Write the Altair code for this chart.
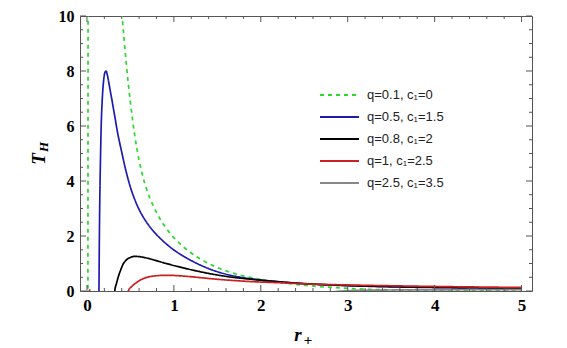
import altair as alt
import pandas as pd

# ---------------- data ----------------
green_a_x = [0.011, 0.013]
green_a_y = [-0.5, 10.5]
green_b_x = [0.395, 0.406, 0.45, 0.50, 0.55, 0.60, 0.65, 0.70, 0.80, 0.90, 1.00, 1.10, 1.20,
             1.40, 1.60, 1.80, 2.00, 2.25, 2.50, 2.75, 3.00, 3.50, 4.00, 4.50, 5.00]
green_b_y = [10.4, 9.95, 8.35, 6.85, 5.65, 4.75, 4.08, 3.58, 2.86, 2.33, 1.94, 1.63, 1.38,
             1.0, 0.73, 0.55, 0.42, 0.30, 0.21, 0.145, 0.095, 0.04, 0.015, 0.005, 0.0]

blue_x = [0.136, 0.138, 0.143, 0.149, 0.155, 0.163, 0.175, 0.19, 0.205, 0.219, 0.235, 0.25,
          0.27, 0.29, 0.32, 0.35, 0.40, 0.45, 0.50, 0.55, 0.60, 0.65, 0.70, 0.75, 0.84, 0.92,
          1.00, 1.13, 1.26, 1.40, 1.57, 1.75, 1.91, 2.22, 2.50, 3.00, 3.50, 4.00, 4.50, 5.00]
blue_y = [-0.5, 0.0, 2.0, 3.6, 4.7, 5.9, 6.9, 7.6, 7.93, 8.0, 7.85, 7.6,
          7.25, 6.9, 6.35, 5.8, 5.05, 4.35, 3.775, 3.325, 2.965, 2.675, 2.435, 2.23, 1.924, 1.692,
          1.492, 1.23, 1.01, 0.814, 0.635, 0.51, 0.433, 0.334, 0.264, 0.194, 0.152, 0.125, 0.108, 0.095]

black_x = [0.317, 0.320, 0.34, 0.36, 0.39, 0.418, 0.45, 0.50, 0.552, 0.60, 0.687, 0.78, 0.878,
           1.07, 1.26, 1.45, 1.65, 1.91, 2.22, 2.50, 3.00, 3.50, 4.00, 4.50, 5.00]
black_y = [-0.3, 0.0, 0.28, 0.51, 0.78, 0.99, 1.12, 1.22, 1.26, 1.25, 1.2, 1.12, 1.03,
           0.87, 0.73, 0.61, 0.51, 0.42, 0.33, 0.27, 0.20, 0.16, 0.135, 0.12, 0.105]

red_a_x = [0.022, 0.038]
red_a_y = [-0.02, 0.06]
red_b_x = [0.472, 0.475, 0.52, 0.567, 0.60, 0.648, 0.72, 0.80, 0.90, 1.00, 1.10, 1.26, 1.45,
           1.65, 1.90, 2.22, 2.50, 3.00, 3.50, 4.00, 4.50, 5.00]
red_b_y = [-0.2, 0.0, 0.18, 0.30, 0.37, 0.45, 0.52, 0.555, 0.57, 0.565, 0.545, 0.50, 0.44,
           0.39, 0.34, 0.30, 0.26, 0.22, 0.19, 0.165, 0.145, 0.13]

gray_x = [2.85, 3.00, 3.30, 3.70, 4.20, 5.00]
gray_y = [-0.02, 0.01, 0.03, 0.04, 0.045, 0.05]

labels = ["q=0.1, c\u2081=0", "q=0.5, c\u2081=1.5", "q=0.8, c\u2081=2",
          "q=1, c\u2081=2.5", "q=2.5, c\u2081=3.5"]
colors = ["#2bd92b", "#1c1cb0", "#000000", "#cc1f1f", "#888888"]
dashes = [[4, 4], [1, 0], [1, 0], [1, 0], [1, 0]]

x_tick_labels = [0, 1, 2, 3, 4, 5]
y_tick_labels = [0, 2, 4, 6, 8, 10]

# ---------------- layout ----------------
W, H = 452, 275
FRAME = "#555555"
xscale = alt.Scale(domain=[-0.08, 5.12], nice=False, zero=False)
yscale = alt.Scale(domain=[0, 10], nice=False, zero=False)
xaxis = alt.Axis(values=x_tick_labels, ticks=False, domain=False, grid=False, title=None,
                 labelFont="Liberation Serif", labelFontWeight="bold", labelFontSize=17,
                 labelColor="#000", labelPadding=6)
yaxis = alt.Axis(values=y_tick_labels, ticks=False, domain=False, grid=False, title=None,
                 labelFont="Liberation Serif", labelFontWeight="bold", labelFontSize=16,
                 labelColor="#000", labelPadding=6)


def seg_df(parts):
    rows = []
    for k, (xs, ys) in enumerate(parts):
        for a, b in zip(xs, ys):
            rows.append({"x": a, "y": b, "seg": k})
    return pd.DataFrame(rows)


series = [
    seg_df([(green_a_x, green_a_y), (green_b_x, green_b_y)]),
    seg_df([(blue_x, blue_y)]),
    seg_df([(black_x, black_y)]),
    seg_df([(red_a_x, red_a_y), (red_b_x, red_b_y)]),
    seg_df([(gray_x, gray_y)]),
]

layers = []
for i, df in enumerate(series):
    layers.append(
        alt.Chart(df).mark_line(
            color=colors[i], strokeWidth=1.7, strokeDash=dashes[i],
            interpolate="monotone", clip=True
        ).encode(x=alt.X("x:Q", scale=xscale, axis=xaxis),
                 y=alt.Y("y:Q", scale=yscale, axis=yaxis),
                 detail="seg:N", order="x:Q")
    )

# ---------------- frame ticks (inward, all four sides) ----------------
x_major = [0, 1, 2, 3, 4, 5]
x_minor = [round(0.2 * k, 2) for k in range(26) if k % 5 != 0]
y_major = [0, 2, 4, 6, 8, 10]
y_minor = [0.5 * k for k in range(21) if k % 4 != 0]

tick_layers = []
for vals, ln in [(x_major, 6), (x_minor, 3)]:
    tdf = pd.DataFrame({"x": vals})
    tick_layers.append(alt.Chart(tdf).mark_rule(color=FRAME, strokeWidth=1).encode(
        x=alt.X("x:Q", scale=xscale, axis=xaxis), y=alt.value(H), y2=alt.value(H - ln)))
    tick_layers.append(alt.Chart(tdf).mark_rule(color=FRAME, strokeWidth=1).encode(
        x=alt.X("x:Q", scale=xscale, axis=xaxis), y=alt.value(0), y2=alt.value(ln)))
for vals, ln in [(y_major, 6), (y_minor, 3)]:
    tdf = pd.DataFrame({"y": vals})
    tick_layers.append(alt.Chart(tdf).mark_rule(color=FRAME, strokeWidth=1).encode(
        y=alt.Y("y:Q", scale=yscale, axis=yaxis), x=alt.value(0), x2=alt.value(ln)))
    tick_layers.append(alt.Chart(tdf).mark_rule(color=FRAME, strokeWidth=1).encode(
        y=alt.Y("y:Q", scale=yscale, axis=yaxis), x=alt.value(W), x2=alt.value(W - ln)))

# ---------------- legend (manual) ----------------
legend_layers = []
one = pd.DataFrame({"k": [0]})
for i, lab in enumerate(labels):
    yy = 79 + 22 * i
    legend_layers.append(alt.Chart(one).mark_rule(
        color=colors[i], strokeWidth=1.8, strokeDash=dashes[i]
    ).encode(x=alt.value(240), x2=alt.value(279), y=alt.value(yy)))
    legend_layers.append(alt.Chart(one).mark_text(
        text=lab, align="left", baseline="middle", font="Liberation Sans",
        fontSize=13, color="#222"
    ).encode(x=alt.value(287), y=alt.value(yy)))

# ---------------- axis titles ----------------
title_layers = [
    alt.Chart(one).mark_text(text="T", angle=270, align="center", baseline="middle",
                             font="Liberation Serif", fontStyle="italic", fontWeight="bold",
                             fontSize=19, color="#000").encode(x=alt.value(-41), y=alt.value(143)),
    alt.Chart(one).mark_text(text="H", angle=270, align="center", baseline="middle",
                             font="Liberation Serif", fontStyle="italic", fontWeight="bold",
                             fontSize=13, color="#000").encode(x=alt.value(-36), y=alt.value(131)),
    alt.Chart(one).mark_text(text="r", align="center", baseline="middle",
                             font="Liberation Serif", fontStyle="italic", fontWeight="bold",
                             fontSize=19, color="#000").encode(x=alt.value(218), y=alt.value(319)),
    alt.Chart(one).mark_text(text="+", align="center", baseline="middle",
                             font="Liberation Serif", fontWeight="bold",
                             fontSize=15, color="#000").encode(x=alt.value(228), y=alt.value(324)),
]

chart = alt.layer(*layers, *tick_layers, *legend_layers, *title_layers).properties(
    width=W, height=H,
    autosize=alt.AutoSizeParams(type="none"),
    padding={"left": 72, "top": 8, "right": 20, "bottom": 60},
    background="white",
).configure_view(stroke=FRAME, strokeWidth=1)

chart.save("out.html", embed_options={"renderer": "svg", "actions": False})
